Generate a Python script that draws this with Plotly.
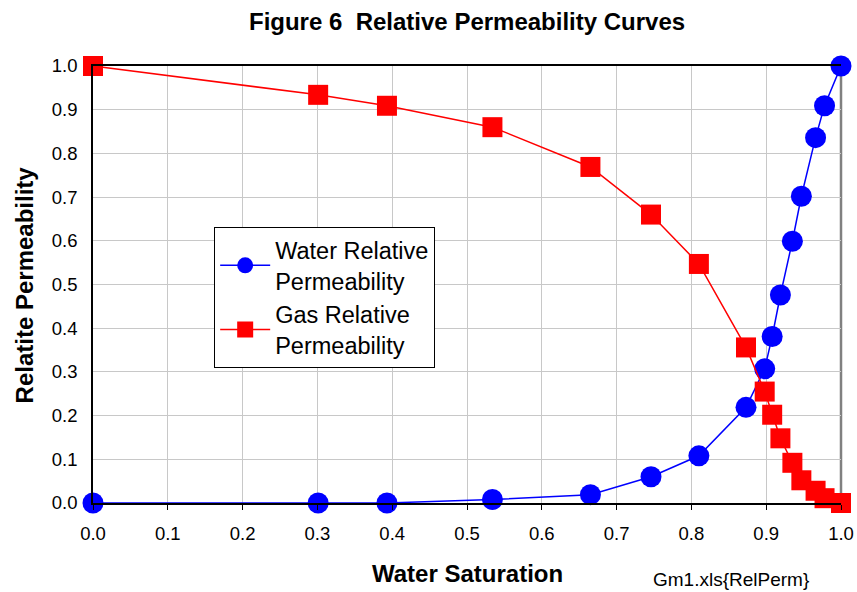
import plotly.graph_objects as go

# Data
water_saturation = [0.0, 0.301, 0.393, 0.534, 0.665, 0.746, 0.810, 0.873, 0.898,
                    0.908, 0.919, 0.935, 0.947, 0.966, 0.978, 1.0]
water_relperm = [0.0, 0.0, 0.0, 0.008, 0.019, 0.060, 0.108, 0.219, 0.307,
                 0.381, 0.476, 0.599, 0.702, 0.836, 0.909, 1.0]
gas_relperm = [1.0, 0.934, 0.909, 0.860, 0.769, 0.660, 0.547, 0.356, 0.255,
               0.202, 0.148, 0.092, 0.052, 0.028, 0.011, 0.0]
tick_vals = [0.0, 0.1, 0.2, 0.3, 0.4, 0.5, 0.6, 0.7, 0.8, 0.9, 1.0]
tick_text = ["0.0", "0.1", "0.2", "0.3", "0.4", "0.5", "0.6", "0.7", "0.8", "0.9", "1.0"]

FONT = "Liberation Sans, Arial, sans-serif"

fig = go.Figure()
fig.add_trace(go.Scatter(
    x=water_saturation, y=water_relperm, mode="lines+markers",
    name="Water Relative<br>Permeability",
    line=dict(color="#0000FF", width=1.5),
    marker=dict(symbol="circle", size=21, color="#0000FF"),
    cliponaxis=False,
))
fig.add_trace(go.Scatter(
    x=water_saturation, y=gas_relperm, mode="lines+markers",
    name="Gas Relative<br>Permeability",
    line=dict(color="#FF0000", width=1.5),
    marker=dict(symbol="square", size=20, color="#FF0000"),
    cliponaxis=False,
))

fig.update_layout(
    width=857, height=592,
    margin=dict(l=93, r=16, t=66, b=89, autoexpand=False),
    paper_bgcolor="white", plot_bgcolor="white",
    font=dict(family=FONT, color="black"),
    title=dict(text="<b>Figure 6 \u00a0Relative Permeability Curves</b>",
               x=0.545, xanchor="center", y=(592 - 22) / 592, yanchor="middle",
               font=dict(size=24, family=FONT, color="black")),
    showlegend=True,
    legend=dict(x=0.162, y=0.631, xanchor="left", yanchor="top",
                bgcolor="white", bordercolor="black", borderwidth=1,
                font=dict(size=23.5, family=FONT, color="black"),
                itemwidth=50, tracegroupgap=0),
    xaxis=dict(range=[0, 1], tickvals=tick_vals, ticktext=tick_text,
               showgrid=True, gridcolor="#c8c8c8", gridwidth=1,
               showline=True, linecolor="black", linewidth=1.5, mirror=True,
               ticks="outside", ticklen=5, tickcolor="black", tickwidth=1,
               ticklabelstandoff=8, automargin=False,
               zeroline=False, tickfont=dict(size=18.5, family=FONT, color="black")),
    yaxis=dict(range=[0, 1], tickvals=tick_vals, ticktext=tick_text,
               showgrid=True, gridcolor="#c8c8c8", gridwidth=1,
               showline=True, linecolor="black", linewidth=1.5,
               ticks="", zeroline=False, ticklabelstandoff=10, automargin=False,
               tickfont=dict(size=18.5, family=FONT, color="black")),
    shapes=[dict(type="line", xref="paper", yref="paper", x0=1, x1=1, y0=0, y1=1,
                 line=dict(color="#808080", width=2.5), layer="below")],
    annotations=[
        dict(text="<b>Water Saturation</b>", xref="paper", yref="paper",
             x=0.5, y=-70 / 436, xanchor="center", yanchor="middle",
             showarrow=False, font=dict(size=24, family=FONT, color="black")),
        dict(text="<b>Relatite Permeability</b>", xref="paper", yref="paper",
             x=(25 - 93) / 747, y=0.5, xanchor="center", yanchor="middle",
             textangle=-90, showarrow=False,
             font=dict(size=24, family=FONT, color="black")),
        dict(text="Gm1.xls{RelPerm}", xref="paper", yref="paper",
             x=(650 - 93) / 747, y=-(579 - 503) / 436, xanchor="left", yanchor="middle",
             showarrow=False, font=dict(size=19, family=FONT, color="black")),
    ],
)

fig.write_html("out.html", config={"displayModeBar": False},
               post_script="document.body.style.margin='0';")
